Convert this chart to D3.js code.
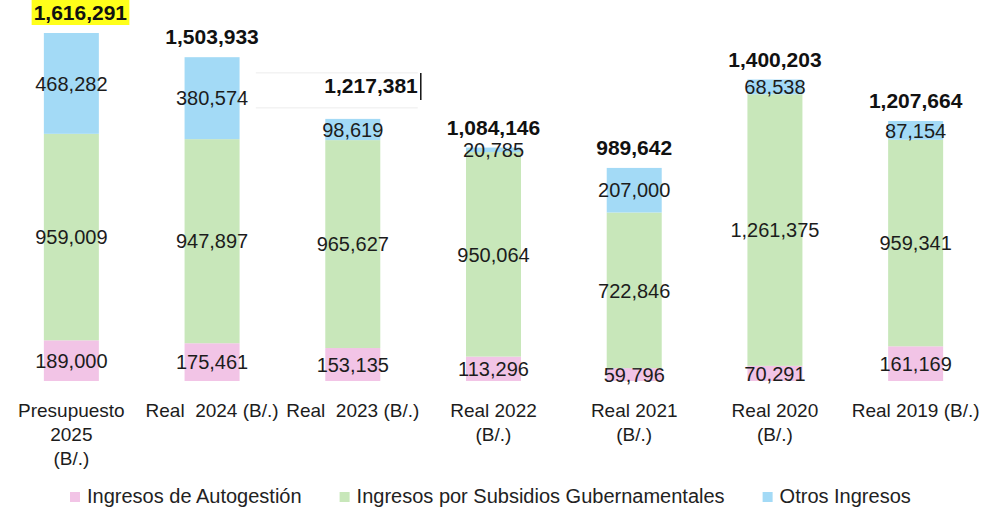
<!DOCTYPE html>
<html>
<head>
<meta charset="utf-8">
<script src="https://cdn.jsdelivr.net/npm/d3@7"></script>
<style>
  body { margin: 0; background: #fff; }
  svg { display: block; font-family: "Liberation Sans", Arial, sans-serif; }
</style>
</head>
<body>
<div id="chart"></div>
<script>
// data
const categories = ["Presupuesto\n2025\n(B/.)", "Real  2024 (B/.)", "Real  2023 (B/.)", "Real 2022\n(B/.)", "Real 2021\n(B/.)", "Real 2020\n(B/.)", "Real 2019 (B/.)"];
const autogestion = [189000, 175461, 153135, 113296, 59796, 70291, 161169];
const subsidios = [959009, 947897, 965627, 950064, 722846, 1261375, 959341];
const otros = [468282, 380574, 98619, 20785, 207000, 68538, 87154];
const totals = [1616291, 1503933, 1217381, 1084146, 989642, 1400203, 1207664];

const seriesNames = ["Ingresos de Autogestión", "Ingresos por Subsidios Gubernamentales", "Otros Ingresos"];
const seriesColors = ["#f2c4e6", "#c8e7ba", "#a3daf6"];

let width = 981, height = 512;
let barWidth = 55;

let data = categories.map((c, i) => ({ name: c, a: autogestion[i], s: subsidios[i], o: otros[i], total: totals[i] }));
const keys = ["a", "s", "o"];

let svg = d3.select("#chart").append("svg").attr("width", width).attr("height", height);

const x = d3.scalePoint().domain(categories).range([1, 986]).padding(0.5);
const y = d3.scaleLinear().domain([0, d3.max(totals)]).range([381, 33]);
const color = d3.scaleOrdinal().domain(keys).range(seriesColors);

const stacked = d3.stack().keys(keys)(data);

// bars
let layers = svg.append("g").selectAll("g")
    .data(stacked)
    .enter().append("g")
    .attr("fill", d => color(d.key));

layers.selectAll("rect")
    .data(d => d)
    .enter().append("rect")
    .attr("x", d => x(d.data.name) - barWidth / 2)
    .attr("y", d => y(d[1]))
    .attr("width", barWidth)
    .attr("height", d => y(d[0]) - y(d[1]));

// segment labels, centered in each piece
layers.selectAll("text")
    .data(d => d.map(p => ({ p: p, key: d.key })))
    .enter().append("text")
    .attr("x", d => x(d.p.data.name))
    .attr("y", d => (y(d.p[0]) + y(d.p[1])) / 2)
    .attr("dy", "0.36em")
    .attr("text-anchor", "middle")
    .attr("fill", "#1c1c1c")
    .style("font-size", "20px")
    .text(d => d3.format(",")(d.p.data[d.key]));

// totals above bars
const editedIdx = 2;   // the one in a text box that was dragged aside
let totalG = svg.append("g");
data.forEach((d, i) => {
    let top = y(d.total);
    let topSeg = y(d.total) - y(d.total - d.o);
    let base = topSeg < 12 ? top - 13 : top - 4;
    let cx = x(d.name);
    let anchor = "middle";
    if (i === 0) cx += 9;
    if (i === editedIdx) {
        base = top - 26;
        cx = x(d.name) + 65;
        anchor = "end";
        totalG.append("line").attr("x1", cx - 162).attr("x2", cx).attr("y1", base - 20).attr("y2", base - 20)
            .attr("stroke", "#ececec");
        totalG.append("line").attr("x1", cx - 162).attr("x2", cx).attr("y1", base + 15).attr("y2", base + 15)
            .attr("stroke", "#ececec");
        totalG.append("line").attr("x1", cx + 3).attr("x2", cx + 3).attr("y1", base - 20).attr("y2", base + 7)
            .attr("stroke", "#111").attr("stroke-width", 1.5);
    }
    let t = totalG.append("text")
        .attr("x", cx)
        .attr("y", base)
        .attr("text-anchor", anchor)
        .attr("fill", "#111")
        .style("font-size", "21px")
        .style("font-weight", "bold")
        .text(d3.format(",")(d.total));
    if (i === 0) {
        let bb = t.node().getBBox();
        totalG.insert("rect", "text")
            .attr("x", bb.x - 2).attr("y", 0)
            .attr("width", bb.width + 4).attr("height", base + 5)
            .attr("fill", "#ffff1a");
    }
});

// category labels
let catG = svg.append("g");
categories.forEach(c => {
    let t = catG.append("text")
        .attr("x", x(c))
        .attr("y", 417)
        .attr("text-anchor", "middle")
        .attr("fill", "#1c1c1c")
        .style("font-size", "19px")
        .style("white-space", "pre");
    c.split("\n").forEach((line, j) => {
        t.append("tspan").attr("x", x(c)).attr("dy", j === 0 ? 0 : 24).text(line);
    });
});

// legend
let legend = svg.append("g");
let lx = 70;
seriesNames.forEach((n, i) => {
    legend.append("rect").attr("x", lx).attr("y", 492).attr("width", 10).attr("height", 10)
        .attr("fill", seriesColors[i]);
    let t = legend.append("text").attr("x", lx + 17).attr("y", 503)
        .attr("fill", "#222").style("font-size", "20px").text(n);
    lx += 17 + t.node().getComputedTextLength() + 38;
});
</script>
</body>
</html>
